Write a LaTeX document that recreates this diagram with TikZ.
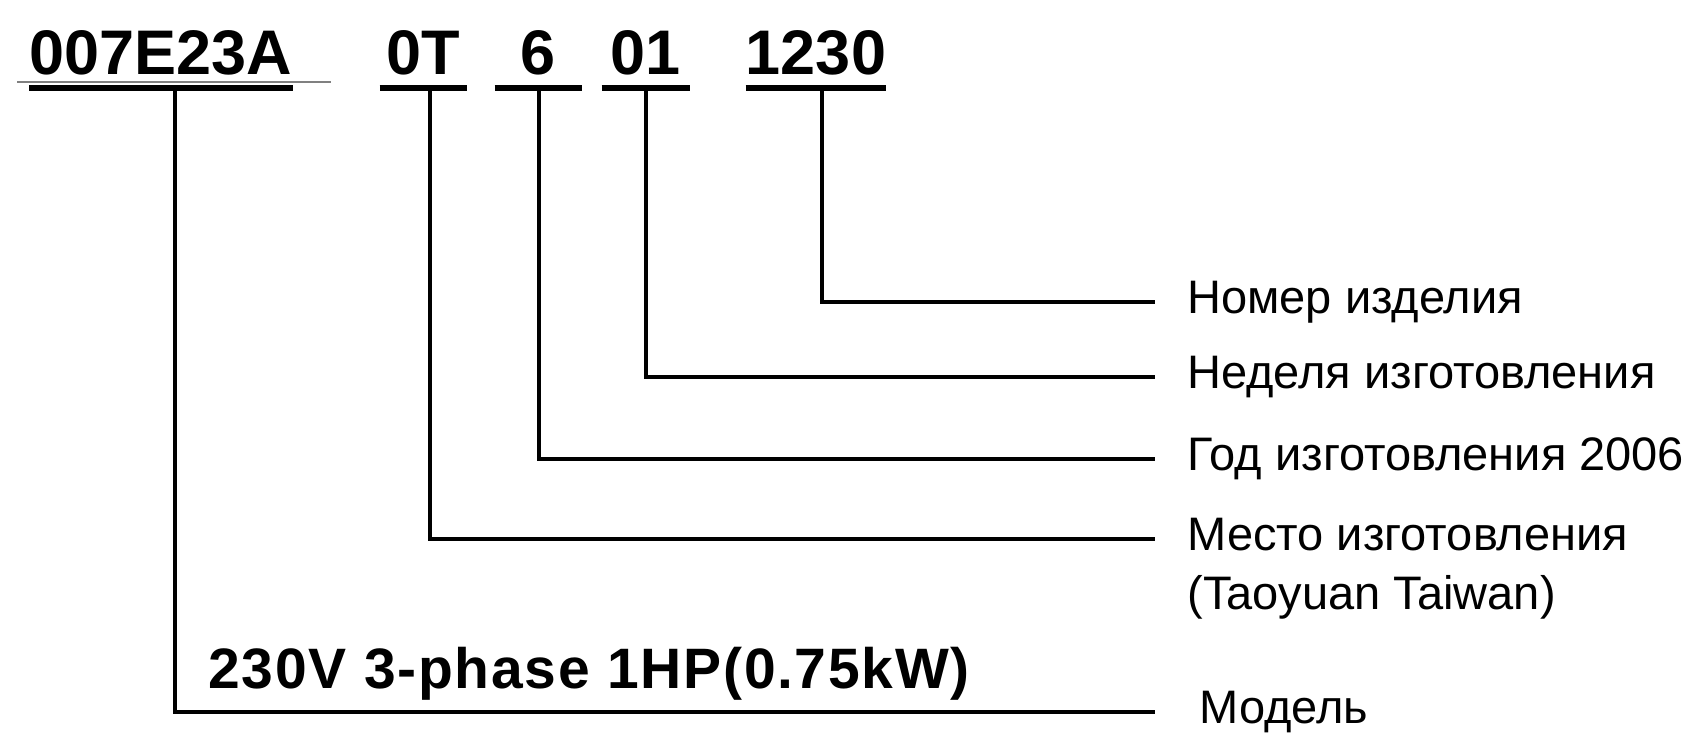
\documentclass[tikz,border=0pt]{standalone}
\usepackage{fontspec}
\setmainfont{Liberation Sans}
\newfontfamily\specfont[LetterSpace=3]{Liberation Sans}
\usetikzlibrary{positioning}

\begin{document}
\begin{tikzpicture}[
    x=0.5pt, y=-0.5pt,
    code/.style={font=\fontsize{31.5}{36}\selectfont\bfseries, anchor=south,
                 inner xsep=0pt, inner ysep=6.5pt, text depth=0pt},
    lbl/.style={font=\fontsize{23.5}{28}\selectfont, anchor=west,
                inner xsep=16pt, inner ysep=3.6pt, text height=16.8pt, text depth=4.9pt},
    uline/.style={line width=2.6pt},
    wire/.style={line width=2pt}
  ]
  \useasboundingbox (0,0) rectangle (1703,736);

  % code groups
  \node[code, minimum width=129pt] (cmodel) at (161,88) {007E23A};
  \node[code, minimum width=43.5pt] (c0T) at (423.5,88) {0T};
  \node[code, minimum width=43.5pt] (c6) at (538.5,88) {6};
  \node[code, minimum width=44pt] (c01) at (646,88) {01};
  \node[code, minimum width=61pt] (c1230) at (816,88) {1230};

  % labels on the right
  \node[lbl] (lnum) at (1155,302) {Номер изделия};
  \node[lbl] (lweek) at (1155,377) {Неделя изготовления};
  \node[lbl] (lyear) at (1155,459) {Год изготовления 2006};
  \node[lbl] (lplace) at (1155,539) {Место изготовления};
  \node[lbl, below=0pt of lplace.south west, anchor=north west] (ltw) {(Taoyuan Taiwan)};
  \node[lbl, inner xsep=22pt] (lmodel) at (1155,712) {Модель};

  \node[font=\specfont\fontsize{28.5}{34}\selectfont\bfseries, anchor=base west,
        inner sep=0pt] (spec) at (208,688) {230V 3-phase 1HP(0.75kW)};

  % underlines
  \foreach \c in {cmodel,c0T,c6,c01,c1230}
    \draw[uline] (\c.south west) -- (\c.south east);
  \draw[line width=1pt, gray] ([shift={(-6pt,3pt)}]cmodel.south west)
    -- ([shift={(19pt,3pt)}]cmodel.south east);

  % leader lines
  \draw[wire] ([xshift=7pt]cmodel.south) |- (lmodel.west);
  \draw[wire] ([xshift=3pt]c0T.south) |- (lplace.west);
  \draw[wire] (c6.south) |- (lyear.west);
  \draw[wire] (c01.south) |- (lweek.west);
  \draw[wire] ([xshift=3pt]c1230.south) |- (lnum.west);
\end{tikzpicture}
\end{document}
